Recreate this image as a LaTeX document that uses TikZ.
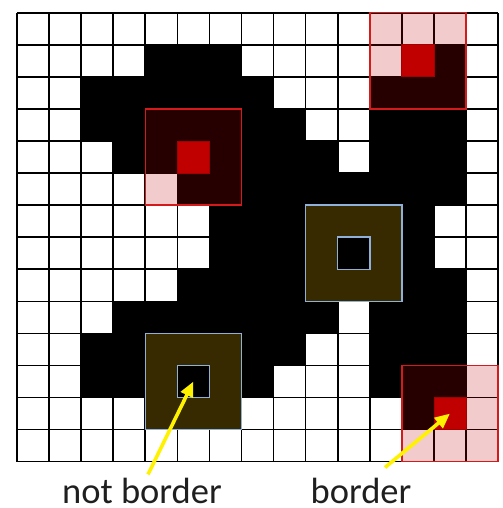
\documentclass[tikz,border=0pt]{standalone}
\usepackage{fontspec}
\setmainfont{Carlito}
\usepackage{xcolor}
\definecolor{pixred}{HTML}{C00000}
\definecolor{winedge}{HTML}{D41A1A}
\definecolor{gold}{HTML}{FFC000}
\definecolor{skyedge}{HTML}{8FB1D9}
\definecolor{ink}{HTML}{1F1F1F}
\usetikzlibrary{arrows.meta,positioning,calc}
\newcommand{\cellsz}{32.07pt}
\tikzset{
  gridln/.style={draw=black,line width=1.6pt},
  onpix/.style={fill=black},
  redwin/.style={draw=winedge,line width=1.5pt,fill=pixred,fill opacity=0.2,minimum size=3*\cellsz,inner sep=0pt,outer sep=0pt},
  goldwin/.style={draw=skyedge,line width=1.5pt,fill=gold,fill opacity=0.22,minimum size=3*\cellsz,inner sep=0pt,outer sep=0pt},
  redpix/.style={draw=pixred!85!black,line width=0.8pt,fill=pixred,minimum size=\cellsz,inner sep=0pt,outer sep=0pt},
  bluepix/.style={draw=skyedge,line width=1.5pt,fill=black,minimum size=\cellsz,inner sep=0pt,outer sep=0pt},
  lab/.style={font=\fontsize{36.5}{40}\selectfont,text=ink,inner sep=0pt,text depth=0pt,anchor=base},
  yarr/.style={-{Triangle[length=15pt,width=13pt]},draw=yellow,line width=3.6pt},
}
\begin{document}
\begin{tikzpicture}[x=\cellsz,y=\cellsz]
\useasboundingbox (-0.530,0.396) rectangle (15.123,-15.444);
% object pixels, row by row
\foreach \r/\cols in {1/{4,5,6,12,13},2/{2,...,7,11,12,13},3/{2,...,8,11,12,13},4/{3,...,9,11,12,13},5/{5,...,13},6/{6,...,12},7/{6,...,12},8/{5,...,13},9/{3,...,9,11,12,13},10/{2,...,8,11,12,13},11/{2,...,7,11,12,13},12/{4,5,6,12,13}}
  \foreach \c in \cols \fill[onpix] (\c,-\r) rectangle ++(1,-1);
\draw[gridln,step=\cellsz] (0,-14) grid (15,0);
% 3x3 windows
\node[redwin] (winA) at (5.5,-4.5) {};
\node[redpix] (pixA) at (5.5,-4.5) {};
\node[redwin] (winB) at (12.5,-1.5) {};
\node[redpix] (pixB) at (12.5,-1.5) {};
\node[redwin] (winC) at (13.5,-12.5) {};
\node[redpix] (pixC) at (13.5,-12.5) {};
\node[goldwin] (winD) at (10.5,-7.5) {};
\node[bluepix] (pixD) at (10.5,-7.5) {};
\node[goldwin] (winE) at (5.5,-11.5) {};
\node[bluepix] (pixE) at (5.5,-11.5) {};
% labels
\node[lab] (nb) at (3.898,-15.288) {not border};
\node[lab] (bd) at (10.727,-15.288) {border};
\draw[yarr] ([xshift=6pt,yshift=3pt]nb.north) -- (pixE.center);
\draw[yarr] ([xshift=24pt,yshift=10pt]bd.north) -- (pixC.center);
\end{tikzpicture}
\end{document}
